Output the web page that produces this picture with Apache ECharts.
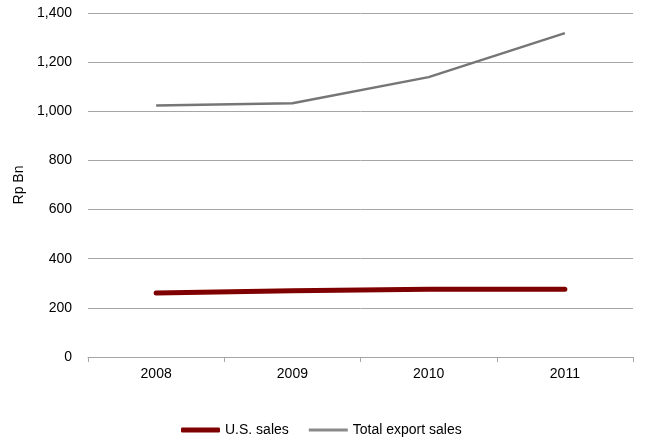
<!DOCTYPE html>
<html>
<head>
<meta charset="utf-8">
<script src="https://cdn.jsdelivr.net/npm/echarts@6/dist/echarts.min.js"></script>
<style>
html,body{margin:0;padding:0;background:#fff;}
#chart{width:645px;height:440px;}
</style>
</head>
<body>
<div id="chart"></div>
<script>
var years = ['2008', '2009', '2010', '2011'];
var usSales = [260, 270, 276, 276];
var totalExport = [1024, 1033, 1139, 1318];

var myChart = echarts.init(document.getElementById('chart'));
var font = 'Liberation Sans, Arial, sans-serif';
var option = {
    animation: false,
    backgroundColor: '#fff',
    grid: {
        left: 88,
        right: 12,
        top: 13,
        bottom: 83
    },
    legend: {
        top: 418,
        left: 176,
        itemWidth: 39,
        itemHeight: 5,
        itemGap: 20,
        data: [
            {name: 'U.S. sales', icon: 'roundRect', itemStyle: {color: '#7f0000'}},
            {name: 'Total export sales', icon: 'path://M0,0 L40,0 L40,3 L0,3 Z', itemStyle: {color: '#8a8a8a'}}
        ],
        textStyle: {
            fontFamily: font,
            fontSize: 14,
            color: '#000'
        }
    },
    xAxis: {
        type: 'category',
        data: years,
        boundaryGap: true,
        axisLine: {lineStyle: {color: '#a6a6a6', width: 1}},
        axisTick: {show: true, length: 5, lineStyle: {color: '#a6a6a6'}},
        axisLabel: {fontFamily: font, fontSize: 14, color: '#000', margin: 10}
    },
    yAxis: {
        type: 'value',
        min: 0,
        max: 1400,
        interval: 200,
        name: 'Rp Bn',
        nameLocation: 'middle',
        nameGap: 61,
        nameTextStyle: {fontFamily: font, fontSize: 14, color: '#000'},
        axisLine: {show: false},
        axisTick: {show: false},
        splitLine: {lineStyle: {color: '#a6a6a6', width: 1}},
        axisLabel: {
            fontFamily: font,
            fontSize: 14,
            color: '#000',
            margin: 16,
            formatter: function (v) { return v.toLocaleString('en-US'); }
        }
    },
    series: [
        {
            name: 'U.S. sales',
            type: 'line',
            data: usSales,
            showSymbol: false,
            symbol: 'none',
            lineStyle: {color: '#7f0000', width: 5, cap: 'round'},
            itemStyle: {color: '#7f0000'},
            z: 3
        },
        {
            name: 'Total export sales',
            type: 'line',
            data: totalExport,
            showSymbol: false,
            symbol: 'none',
            lineStyle: {color: '#767676', width: 2.5},
            itemStyle: {color: '#767676'},
            z: 2
        }
    ]
};
myChart.setOption(option);
</script>
</body>
</html>
